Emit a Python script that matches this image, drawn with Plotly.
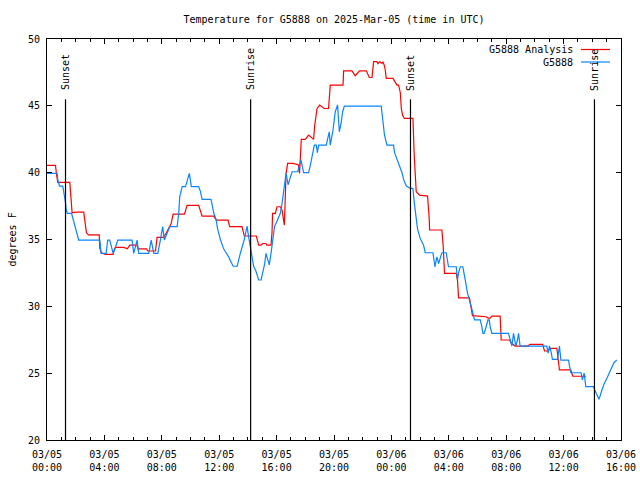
import pandas as pd
import plotly.graph_objects as go

# ---------------- data ----------------
start_time = "2025-03-05 00:00"

analysis_hours = [0.0, 0.59, 0.66, 0.75, 1.59, 1.67, 1.75, 2.0, 2.56, 2.65, 2.75, 2.89, 3.64, 3.68, 3.8, 4.07,
                  4.61, 4.7, 4.77, 5.35, 5.6, 5.77, 6.28, 6.34, 6.93, 7.02, 7.56, 7.67, 8.11, 8.32, 8.65, 8.79,
                  9.58, 9.76, 10.57, 10.81, 11.62, 11.8, 12.62, 12.73, 13.59, 13.75, 14.59, 14.75, 14.92, 15.04,
                  15.25, 15.32, 15.61, 15.68, 15.72, 15.91, 16.03, 16.26, 16.38, 16.54, 16.66, 16.77, 17.14,
                  17.51, 17.6, 17.72, 18.0, 18.23, 18.58, 18.65, 18.82, 19.0, 19.32, 19.62, 19.69, 19.74, 20.63,
                  20.67, 21.25, 21.48, 21.78, 22.25, 22.46, 22.65, 22.76, 22.99, 23.06, 23.18, 23.34, 23.41,
                  23.5, 23.57, 23.64, 24.11, 24.22, 24.39, 24.5, 24.62, 24.69, 24.78, 24.9, 25.5, 25.59, 25.73,
                  25.96, 26.52, 26.64, 26.66, 27.52, 27.61, 27.7, 28.52, 28.61, 28.68, 29.44, 29.54, 29.65,
                  30.6, 30.74, 30.88, 31.0, 31.58, 31.65, 32.23, 32.35, 32.63, 33.5, 33.67, 34.55, 34.61, 34.67,
                  34.94, 35.06, 35.53, 35.62, 35.71, 36.5, 36.64, 37.57]
analysis_temp = [40.55, 40.55, 39.9, 39.27, 39.27, 38.2, 37.0, 37.05, 37.05, 36.3, 35.5, 35.35, 35.35, 34.34, 34.0, 33.89,
                 33.89, 34.3, 34.41, 34.41, 34.3, 34.58, 34.58, 34.3, 34.3, 34.14, 34.14, 35.16, 35.16, 35.5, 36.2, 36.9,
                 36.9, 37.55, 37.55, 36.75, 36.75, 36.45, 36.45, 35.96, 35.96, 35.26, 35.26, 34.58, 34.58, 34.7,
                 34.7, 34.58, 34.58, 35.5, 36.96, 36.96, 37.45, 37.45, 37.2, 36.08, 39.95, 40.7, 40.7,
                 40.6, 39.95, 42.49, 42.49, 42.81, 42.49, 43.5, 44.8, 45.06, 44.8, 44.8, 46.18, 46.55, 46.55,
                 47.62, 47.62, 47.25, 47.62, 47.62, 47.12, 47.12, 48.3, 48.3, 48.15, 48.3, 48.18, 48.3,
                 48.05, 47.7, 47.05, 47.05, 46.85, 46.55, 46.55, 46.0, 44.8, 44.3, 44.06, 44.06, 41.3, 38.57,
                 38.32, 38.25, 36.5, 35.71, 35.71, 34.5, 32.47, 32.47, 31.9, 30.64, 30.64, 29.9, 29.3,
                 29.22, 29.12, 29.12, 29.27, 29.27, 27.48, 27.48, 27.25, 27.03, 27.03, 27.16, 27.16, 26.9, 26.66,
                 26.66, 26.86, 26.86, 26.0, 25.24, 25.24, 24.77, 24.77]

obs_hours = [0.0, 0.71, 0.75, 0.87, 1.1, 1.17, 1.29, 1.34, 1.41, 1.71, 1.78, 1.87, 1.93, 2.05, 2.14, 2.21, 3.68,
             3.77, 4.12, 4.23, 4.37, 4.61, 4.77, 4.93, 5.93, 6.04, 6.28, 6.39, 7.09, 7.26, 7.44, 7.72, 7.9, 8.06,
             8.18, 8.37, 8.55, 9.07, 9.18, 9.25, 9.42, 9.65, 9.76, 9.92, 10.06, 10.57, 10.69, 10.81, 11.43, 11.5,
             11.62, 11.78, 11.89, 12.08, 12.31, 12.66, 12.97, 13.25, 13.36, 13.47, 13.75, 13.94, 14.05, 14.22,
             14.4, 14.57, 14.75, 14.92, 15.06, 15.17, 15.26, 15.38, 15.49, 15.61, 15.72, 15.86, 15.98, 16.14,
             16.26, 16.38, 16.49, 16.66, 16.8, 16.96, 17.08, 17.47, 17.6, 17.7, 17.88, 18.23, 18.35, 18.47,
             18.63, 18.77, 18.84, 18.93, 19.46, 19.56, 19.67, 19.74, 19.93, 20.09, 20.25, 20.37, 20.51, 20.6,
             20.72, 23.29, 23.38, 23.52, 23.69, 24.15, 24.22, 24.39, 24.55, 24.74, 24.85, 25.03, 25.31, 25.5,
             25.59, 25.73, 25.82, 26.0, 26.24, 26.36, 26.89, 26.98, 27.03, 27.17, 27.29, 27.4, 27.52, 27.82,
             27.91, 27.98, 28.52, 28.61, 28.68, 28.8, 28.98, 29.07, 29.19, 29.3, 29.44, 29.56, 29.68, 29.79,
             30.19, 30.3, 30.38, 30.47, 30.58, 30.73, 30.82, 30.88, 31.0, 32.16, 32.28, 32.4, 32.51, 32.67,
             32.79, 32.86, 32.97, 34.83, 34.92, 35.01, 35.13, 35.22, 35.57, 35.64, 35.71, 35.81, 36.34, 36.5,
             37.22, 37.31, 37.43, 37.55, 38.08, 38.27, 38.47, 38.66, 38.82, 39.05, 39.29, 39.52, 39.71]
obs_temp = [39.95, 39.95, 39.5, 39.0, 39.0, 38.6, 37.75, 37.2, 36.96, 36.96, 36.7, 36.4, 36.0, 35.7, 35.3, 34.96, 34.96,
            33.96, 33.96, 34.96, 34.96, 33.96, 34.4, 34.96, 34.96, 33.96, 34.96, 33.96, 33.96, 34.96, 33.96, 33.96, 34.96, 35.96,
            34.96, 35.5, 35.96, 35.96, 36.96, 38.2, 38.95, 38.95, 39.3, 39.95, 38.95, 38.95, 38.6, 38.0, 38.0, 37.5,
            37.0, 36.5, 35.8, 35.0, 34.3, 33.7, 33.0, 33.0, 33.5, 33.96, 35.0, 36.0, 35.2, 34.08,
            33.0, 32.6, 31.97, 31.97, 32.6, 33.2, 33.96, 33.5, 33.1, 33.96, 35.0, 36.0, 36.25, 36.6,
            36.96, 37.7, 38.7, 39.95, 39.1, 39.7, 40.07, 40.07, 40.55, 40.94, 40.0, 40.0, 40.55, 41.3,
            42.06, 42.06, 41.5, 42.06, 42.06, 42.55, 43.05, 42.06, 43.18, 44.56, 45.06, 43.06, 43.8, 44.56,
            44.98, 44.98, 44.06, 42.8, 42.06, 42.06, 41.5, 41.0, 40.5, 40.0, 39.5, 39.02, 38.82, 38.82,
            37.8, 36.8, 35.8, 35.1, 34.58, 34.01, 34.01, 33.4, 32.96, 33.7, 33.2, 33.6, 34.01, 34.01,
            33.5, 32.96, 32.96, 31.97, 32.5, 32.96, 32.96, 32.5, 31.7, 31.0, 30.5, 30.0, 29.5, 28.98,
            28.98, 28.5, 27.98, 27.98, 28.5, 28.98, 28.98, 28.5, 27.98, 27.98, 27.5, 27.03, 27.98, 27.03,
            27.5, 27.98, 27.03, 27.03, 26.5, 27.03, 26.6, 26.03, 26.03, 26.6, 27.03, 25.98, 25.98, 25.03,
            25.03, 24.5, 25.0, 24.0, 24.0, 23.5, 23.04, 23.7, 24.2, 24.7, 25.2, 25.8, 25.98]

sun_event_hours = [1.29, 14.19, 25.33, 38.15]
sun_event_labels = ["Sunset", "Sunrise", "Sunset", "Sunrise"]

tick_hours = [0, 4, 8, 12, 16, 20, 24, 28, 32, 36, 40]
tick_labels = ["03/05<br>00:00", "03/05<br>04:00", "03/05<br>08:00", "03/05<br>12:00",
               "03/05<br>16:00", "03/05<br>20:00", "03/06<br>00:00", "03/06<br>04:00",
               "03/06<br>08:00", "03/06<br>12:00", "03/06<br>16:00"]

series_names = ["G5888 Analysis", "G5888"]
series_colors = ["#ff0000", "#0a84ff"]

# ---------------- helpers ----------------
base = pd.Timestamp(start_time)
def to_time(hours):
    return [base + pd.Timedelta(hours=h) for h in hours]

FONT = "DejaVu Sans Mono"
W, H = 640, 480
L, R, T, B = 47, 621, 39, 440  # plot area in window pixels

fig = go.Figure()

fig.add_trace(go.Scatter(x=to_time(analysis_hours), y=analysis_temp, mode="lines",
                         line=dict(color=series_colors[0], width=1.2), name=series_names[0],
                         showlegend=False))
fig.add_trace(go.Scatter(x=to_time(obs_hours), y=obs_temp, mode="lines",
                         line=dict(color=series_colors[1], width=1.2), name=series_names[1],
                         showlegend=False))

# sunrise / sunset markers
for t, lab in zip(to_time(sun_event_hours), sun_event_labels):
    fig.add_trace(go.Scatter(x=[t, t], y=[20, 45.5], mode="lines",
                             line=dict(color="black", width=1.2), showlegend=False,
                             hoverinfo="skip"))
    fig.add_annotation(x=t, y=46.0, xref="x", yref="y", text=lab, textangle=-90,
                       showarrow=False, xanchor="center", yanchor="bottom",
                       font=dict(family=FONT, size=10, color="black"))

def px(xp):
    return (xp - L) / (R - L)
def py(yp):
    return (B - yp) / (B - T)

# custom legend (text left, line sample right)
for i, (nm, col) in enumerate(zip(series_names, series_colors)):
    yrow = 50 + 12.5 * i
    fig.add_annotation(x=px(575), y=py(yrow), xref="paper", yref="paper", text=nm,
                       showarrow=False, xanchor="right", yanchor="middle",
                       font=dict(family=FONT, size=10, color="black"))
    fig.add_shape(type="line", xref="paper", yref="paper", x0=px(581), x1=px(610),
                  y0=py(yrow - 0.5), y1=py(yrow - 0.5), line=dict(color=col, width=1.2))

# y axis label
fig.add_annotation(x=px(12), y=0.5, xref="paper", yref="paper", text="degrees F",
                   textangle=-90, showarrow=False, xanchor="center", yanchor="middle",
                   font=dict(family=FONT, size=10, color="black"))

fig.update_layout(
    width=W, height=H,
    margin=dict(l=L, r=W - R, t=T, b=H - B, pad=0, autoexpand=False),
    paper_bgcolor="white", plot_bgcolor="white",
    font=dict(family=FONT, size=10, color="black"),
    title=dict(text="Temperature for G5888 on 2025-Mar-05 (time in UTC)",
               x=px(334), xref="paper", xanchor="center", y=1 - 19 / H, yanchor="middle",
               font=dict(family=FONT, size=10, color="black")),
    showlegend=False,
)

fig.update_xaxes(
    type="date", automargin=False,
    range=[base, base + pd.Timedelta(hours=40)],
    tickvals=to_time(tick_hours), ticktext=tick_labels,
    ticks="inside", ticklen=5, tickwidth=1, tickcolor="black", ticklabelstandoff=5,
    showline=True, linecolor="black", linewidth=1, mirror="allticks",
    showgrid=False, zeroline=False,
    minor=dict(ticks="inside", ticklen=3, tickwidth=1, tickcolor="black",
               tickvals=to_time(list(range(0, 41))), showgrid=False),
    tickfont=dict(family=FONT, size=10, color="black"),
)
fig.update_yaxes(
    automargin=False,
    range=[20, 50], tickvals=[20, 25, 30, 35, 40, 45, 50],
    ticks="inside", ticklen=5, tickwidth=1, tickcolor="black", ticklabelstandoff=4,
    showline=True, linecolor="black", linewidth=1, mirror="allticks",
    showgrid=False, zeroline=False,
    tickfont=dict(family=FONT, size=10, color="black"),
)

# remove the browser's default page margin so the figure sits at the window's corner
fig.write_html("out.html",
               config={"displayModeBar": False, "staticPlot": True},
               post_script="document.body.style.margin='0';document.body.style.overflow='hidden';")
